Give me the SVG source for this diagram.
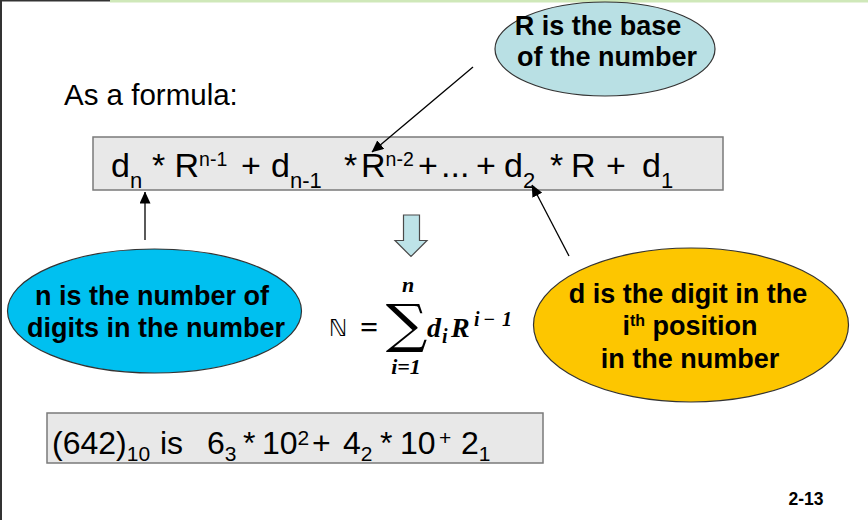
<svg xmlns="http://www.w3.org/2000/svg" width="868" height="520" viewBox="0 0 868 520">
<defs>
<style>
.lbl{font-family:"Liberation Sans",Arial,sans-serif;font-weight:bold;font-size:27px;fill:#000;text-anchor:middle}
.f{font-family:"Liberation Sans",Arial,sans-serif;font-size:34px;fill:#000}
.s{font-size:22px}
.p{font-size:19.5px}
.g{font-family:"Liberation Sans",Arial,sans-serif;font-size:32px;fill:#000}
.gs{font-size:21px}
.m{font-family:"Liberation Serif","Times New Roman",serif;font-weight:bold;font-style:italic;fill:#000}
.box{fill:#e8e8e8;stroke:#7a7a7a;stroke-width:1.5}
.ell{stroke:#333;stroke-width:1.2}
.con{stroke:#000;stroke-width:1.3;fill:none}
</style>
<marker id="ah" markerUnits="userSpaceOnUse" markerWidth="12" markerHeight="11" viewBox="0 0 12 11" refX="11.5" refY="5.5" orient="auto">
<path d="M0,0 L12,5.5 L0,11 z" fill="#000"/>
</marker>
</defs>
<rect x="0" y="0" width="868" height="520" fill="#fff"/>
<rect x="110" y="0" width="758" height="2.5" fill="#cfe8b9"/>
<rect x="0" y="0" width="110" height="1.5" fill="#333"/>
<rect x="0" y="0" width="2" height="520" fill="#333"/>

<text x="64" y="105" font-family="'Liberation Sans',Arial,sans-serif" font-size="29.5" fill="#000">As a formula:</text>

<g id="formula">
<rect class="box" x="93" y="137" width="630" height="53"/>
<text class="f" y="177"><tspan x="111">d</tspan><tspan class="s" y="188">n</tspan><tspan x="152" y="177">*</tspan><tspan x="174.5" y="177">R</tspan><tspan class="p" y="166">n-1</tspan><tspan x="241" y="177">+</tspan><tspan x="271" y="177">d</tspan><tspan class="s" y="188">n-1</tspan><tspan x="344" y="177">*</tspan><tspan x="361" y="177">R</tspan><tspan class="p" y="166">n-2</tspan><tspan x="418" y="177">+</tspan><tspan x="441" y="177">...</tspan><tspan x="476" y="177">+</tspan><tspan x="504" y="177">d</tspan><tspan class="s" y="188">2</tspan><tspan x="550" y="177">*</tspan><tspan x="571" y="177">R</tspan><tspan x="606" y="177">+</tspan><tspan x="642" y="177">d</tspan><tspan class="s" y="188">1</tspan></text>
</g>

<g id="base">
<ellipse class="ell" cx="605" cy="49" rx="110" ry="47" fill="#b9e0e4"/>
<text class="lbl" x="598" y="35" font-size="26">R is the base</text>
<text class="lbl" x="607" y="66" font-size="26">of the number</text>
</g>

<g id="n-label">
<ellipse class="ell" cx="154.5" cy="311" rx="147" ry="62" fill="#00c0f0"/>
<text class="lbl" x="152" y="305">n is the number of</text>
<text class="lbl" x="156" y="337">digits in the number</text>
</g>

<g id="d-label">
<ellipse class="ell" cx="691" cy="325" rx="157.5" ry="77" fill="#fdc600"/>
<text class="lbl" x="688" y="303">d is the digit in the</text>
<text class="lbl" x="690" y="335">i<tspan font-size="16" dy="-9">th</tspan><tspan dy="9"> position</tspan></text>
<text class="lbl" x="690" y="368">in the number</text>
</g>

<g id="down-arrow">
<polygon points="403.5,215 419.5,215 419.5,240.5 427,240.5 411,256.5 395,240.5 403.5,240.5" fill="#bde3e8" stroke="#4a4a4a" stroke-width="1.2"/>
</g>

<g id="sum">
<text x="329" y="336" font-family="'DejaVu Sans',sans-serif" font-size="23" fill="#000">ℕ</text>
<text x="369" y="338" font-family="'Liberation Serif',serif" font-weight="bold" font-size="32" text-anchor="middle" fill="#000">=</text>
<text transform="translate(406.5,342) scale(1.1,1)" x="0" y="0" font-family="'DejaVu Serif',serif" font-size="53" text-anchor="middle" fill="#000">∑</text>
<text class="m" x="408" y="292" font-size="22" text-anchor="middle">n</text>
<text class="m" x="406" y="374" font-size="22" text-anchor="middle">i=1</text>
<text class="m" x="427" y="337" font-size="28">d</text>
<text class="m" x="442" y="343" font-size="20">i</text>
<text class="m" x="451" y="337" font-size="28">R</text>
<text class="m" x="474" y="326" font-size="20">i<tspan x="483">−</tspan><tspan x="502">1</tspan></text>
</g>

<g id="example">
<rect class="box" x="47" y="413" width="496" height="50"/>
<text class="g" y="454"><tspan x="52">(642)</tspan><tspan class="gs" y="461">10</tspan><tspan x="160" y="454">is</tspan><tspan x="207" y="454">6</tspan><tspan class="gs" y="461">3</tspan><tspan x="243" y="454">*</tspan><tspan x="262" y="454">10</tspan><tspan class="gs" y="445">2</tspan><tspan x="312" y="454">+</tspan><tspan x="343" y="454">4</tspan><tspan class="gs" y="461">2</tspan><tspan x="380" y="454">*</tspan><tspan x="400" y="454">10</tspan><tspan class="gs" x="439" y="445">+</tspan><tspan x="461" y="454">2</tspan><tspan class="gs" y="461">1</tspan></text>
</g>

<text x="806" y="505" font-family="'Liberation Sans',Arial,sans-serif" font-weight="bold" font-size="17.5" text-anchor="middle" fill="#000">2-13</text>

<g id="connectors">
<line class="con" x1="473" y1="67" x2="372" y2="152" marker-end="url(#ah)"/>
<line class="con" x1="569" y1="256" x2="532" y2="185" marker-end="url(#ah)"/>
<line class="con" x1="145" y1="240" x2="145" y2="192" marker-end="url(#ah)"/>
</g>
</svg>
